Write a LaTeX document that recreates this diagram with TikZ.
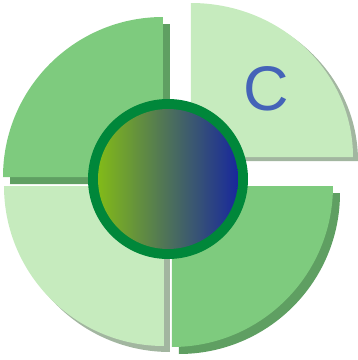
\documentclass[tikz,border=0pt]{standalone}
\usepackage{fontspec}
\setmainfont{Liberation Sans}
\begin{document}
\begin{tikzpicture}[x=1pt,y=1pt]
\definecolor{midgreen}{HTML}{7ECB7E}
\definecolor{lightgreen}{HTML}{C6EBBE}
\definecolor{shadowmid}{HTML}{5F9F62}
\definecolor{shadowlight}{HTML}{A2B6A0}
\definecolor{ringgreen}{HTML}{00873A}
\definecolor{gradleft}{HTML}{82BA18}
\definecolor{gradmid}{HTML}{2E6B6E}
\definecolor{gradright}{HTML}{18289C}
\definecolor{letterblue}{HTML}{4463B8}
\tikzset{
  sectormid/.style={fill=midgreen},
  sectorlight/.style={fill=lightgreen},
  shadowm/.style={fill=shadowmid},
  shadowl/.style={fill=shadowlight}
}
\useasboundingbox (0,0) rectangle (358,360);
% shadows
\fill[shadowm] ([shift={(7,-7)}]163,183) -- ++(180:160) arc[start angle=180,end angle=90,radius=160] -- cycle;
\fill[shadowl] ([shift={(5,-4)}]191,203) -- ++(0:162) arc[start angle=0,end angle=90,x radius=162,y radius=154] -- cycle;
\fill[shadowl] ([shift={(6,-6)}]164,174) -- ++(180:160) arc[start angle=180,end angle=270,radius=160] -- cycle;
\fill[shadowm] ([shift={(7,-7)}]172,174) -- ++(0:161) arc[start angle=0,end angle=-90,radius=161] -- cycle;
% sectors
\fill[sectormid] (163,183) -- ++(180:160) arc[start angle=180,end angle=90,radius=160] -- cycle;
\fill[sectorlight] (191,203) -- ++(0:162) arc[start angle=0,end angle=90,x radius=162,y radius=154] -- cycle;
\fill[sectorlight] (164,174) -- ++(180:160) arc[start angle=180,end angle=270,radius=160] -- cycle;
\fill[sectormid] (172,174) -- ++(0:161) arc[start angle=0,end angle=-90,radius=161] -- cycle;
% centre
\fill[ringgreen] (168,181) circle[radius=80];
\shade[left color=gradleft, middle color=gradmid, right color=gradright] (168,181) circle[radius=70];
% letter
\node[text=letterblue, font=\fontsize{63}{63}\selectfont, inner sep=0pt] (letterC) at (266,271) {C};
\end{tikzpicture}
\end{document}
